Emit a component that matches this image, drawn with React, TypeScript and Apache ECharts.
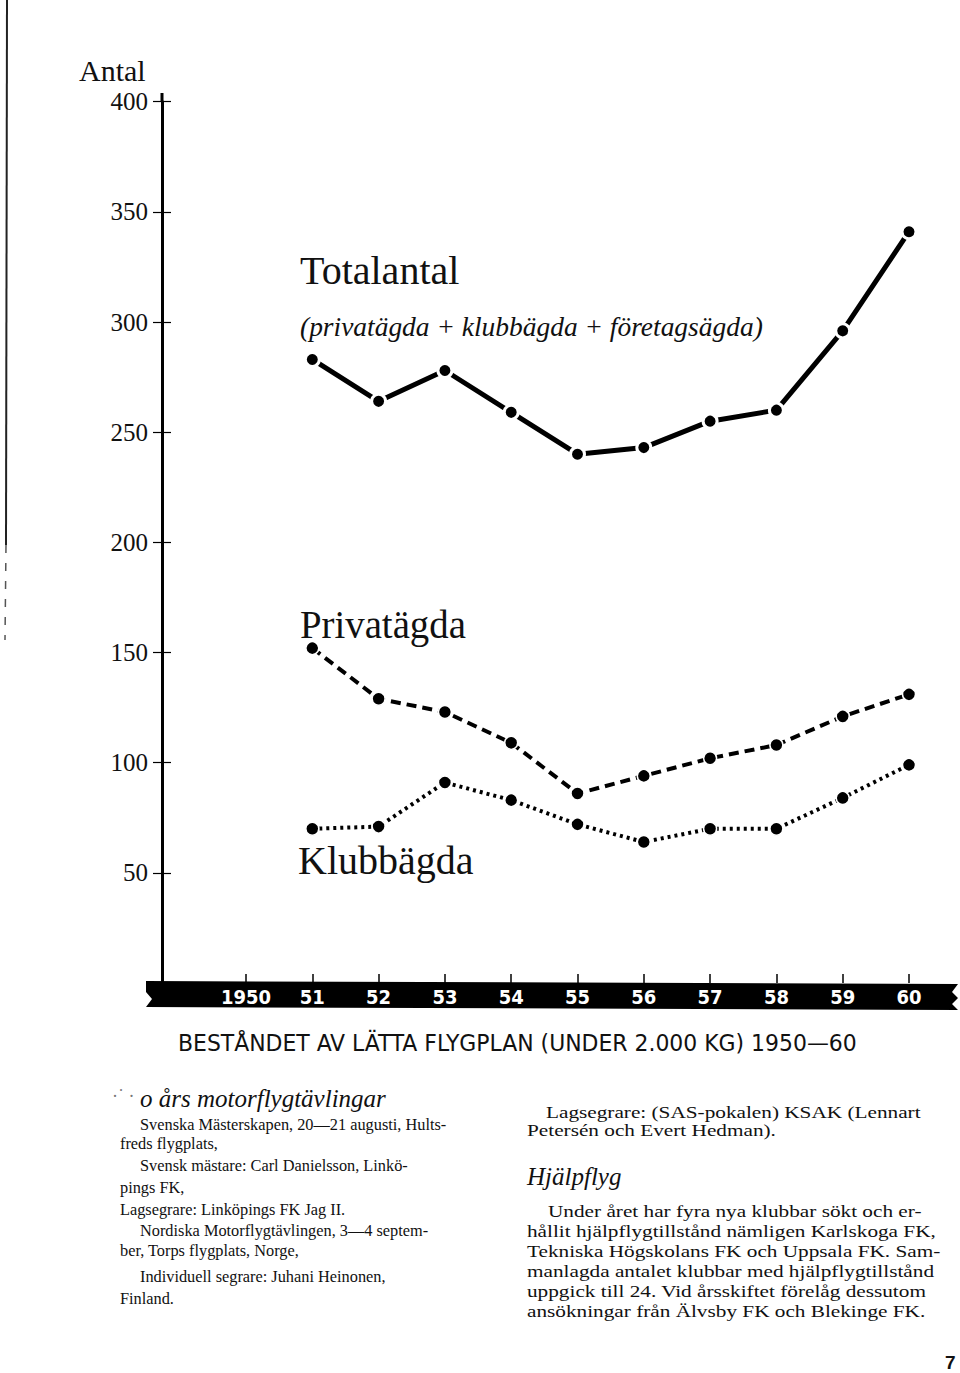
import React, { useEffect, useRef } from "react";
import * as echarts from "echarts";

// ---- data ----
const years = [1951, 1952, 1953, 1954, 1955, 1956, 1957, 1958, 1959, 1960];
const tickYears = [1950, 1951, 1952, 1953, 1954, 1955, 1956, 1957, 1958, 1959, 1960];
const tickLabels = ["1950", "51", "52", "53", "54", "55", "56", "57", "58", "59", "60"];
const totalantal = [283, 264, 278, 259, 240, 243, 255, 260, 296, 341];
const privatagda = [152, 129, 123, 109, 86, 94, 102, 108, 121, 131];
const klubbagda = [70, 71, 91, 83, 72, 64, 70, 70, 84, 99];
const yMin = 0;
const yMax = 400;
const yStep = 50;

const caption = "BESTÅNDET AV LÄTTA FLYGPLAN (UNDER 2.000 KG) 1950—60";

const leftHeading = "o års motorflygtävlingar";
const leftLines: [string, boolean][] = [
  ["Svenska Mästerskapen, 20—21 augusti, Hults-", true],
  ["freds flygplats,", false],
  ["Svensk mästare: Carl Danielsson, Linkö-", true],
  ["pings FK,", false],
  ["Lagsegrare: Linköpings FK Jag II.", false],
  ["Nordiska Motorflygtävlingen, 3—4 septem-", true],
  ["ber, Torps flygplats, Norge,", false],
  ["Individuell segrare: Juhani Heinonen,", true],
  ["Finland.", false],
];
const rightTop: [string, boolean][] = [
  ["Lagsegrare: (SAS-pokalen) KSAK (Lennart", true],
  ["Petersén och Evert Hedman).", false],
];
const rightHeading = "Hjälpflyg";
const rightLines: [string, boolean][] = [
  ["Under året har fyra nya klubbar sökt och er-", true],
  ["hållit hjälpflygtillstånd nämligen Karlskoga FK,", false],
  ["Tekniska Högskolans FK och Uppsala FK. Sam-", false],
  ["manlagda antalet klubbar med hjälpflygtillstånd", false],
  ["uppgick till 24. Vid årsskiftet förelåg dessutom", false],
  ["ansökningar från Älvsby FK och Blekinge FK.", false],
];

const SERIF = '"Liberation Serif", "DejaVu Serif", serif';
const SANS_N = '"Liberation Sans Narrow", "DejaVu Sans Condensed", "Liberation Sans", sans-serif';

function txt(text: string, x: number, y: number, font: string, sx = 1, extra: any = {}) {
  return {
    type: "text",
    x,
    y,
    scaleX: sx,
    z: 20,
    style: { text, font, fill: "#111", align: "left", verticalAlign: "middle", ...extra },
  };
}

export default function App() {
  const ref = useRef<HTMLDivElement>(null);
  useEffect(() => {
    if (!ref.current) return;
    const chart = echarts.init(ref.current, null, { renderer: "svg" });

    const graphics: any[] = [];
    // scan border line on the left
    graphics.push({ type: "line", z: 1, shape: { x1: 7, y1: 0, x2: 6, y2: 545 }, style: { stroke: "#222", lineWidth: 2 } });
    graphics.push({ type: "line", z: 1, shape: { x1: 6, y1: 545, x2: 5, y2: 640 }, style: { stroke: "#555", lineWidth: 1.5, lineDash: [8, 10] } });
    // black x-axis band
    graphics.push({
      type: "polygon",
      z: 1,
      shape: { points: [[146, 981], [958, 984], [952, 992], [958, 998], [952, 1004], [958, 1010], [146, 1007], [152, 999], [146, 992]] },
      style: { fill: "#000" },
    });
    // y axis extension above 400
    graphics.push({ type: "line", z: 5, shape: { x1: 162, y1: 93, x2: 162, y2: 102 }, style: { stroke: "#000", lineWidth: 3 } });

    graphics.push(txt("Antal", 79, 70, `30px ${SERIF}`));
    graphics.push(txt("Totalantal", 300, 270, `40px ${SERIF}`));
    graphics.push(txt("(privatägda + klubbägda + företagsägda)", 300, 326, `italic 28px ${SERIF}`, 0.98));
    graphics.push(txt("Privatägda", 300, 625, `40px ${SERIF}`, 0.97));
    graphics.push(txt("Klubbägda", 298, 860, `40px ${SERIF}`));

    graphics.push(txt(caption, 178, 1043, `23px ${SANS_N}`, 1.06));

    // left column
    graphics.push(txt("·˙ ·", 112, 1096, `18px ${SERIF}`, 1, { fill: "#777" }));
    graphics.push(txt(leftHeading, 140, 1098, `italic 25px ${SERIF}`));
    const leftY = [1124, 1143, 1165, 1187, 1209, 1230, 1250, 1276, 1298];
    leftLines.forEach(([t, ind], i) => graphics.push(txt(t, ind ? 140 : 120, leftY[i], `17px ${SERIF}`, 0.96)));

    // right column
    const rtY = [1112, 1130];
    rightTop.forEach(([t, ind], i) => graphics.push(txt(t, ind ? 546 : 527, rtY[i], `17px ${SERIF}`, 1.25)));
    graphics.push(txt(rightHeading, 527, 1176, `italic 25px ${SERIF}`));
    const rY = [1211, 1231, 1251, 1271, 1291, 1311];
    rightLines.forEach(([t, ind], i) => graphics.push(txt(t, ind ? 548 : 527, rY[i], `17px ${SERIF}`, 1.25)));

    graphics.push(txt("7", 945, 1362, `bold 19px "Liberation Sans", sans-serif`));

    const yAxisBase = {
      type: "value",
      min: yMin,
      max: yMax,
      interval: yStep,
      position: "left",
      splitLine: { show: false },
    };

    chart.setOption({
      animation: false,
      backgroundColor: "#fff",
      grid: { left: 246, right: 51, top: 101.7, bottom: 1373 - 983, containLabel: false },
      xAxis: {
        type: "value",
        min: tickYears[0],
        max: tickYears[tickYears.length - 1],
        interval: 1,
        z: 10,
        axisLine: { show: false },
        splitLine: { show: false },
        axisTick: { show: true, inside: true, length: 9, lineStyle: { color: "#000", width: 1.5 } },
        axisLabel: {
          color: "#fff",
          fontWeight: "bold",
          fontSize: 20,
          fontFamily: '"DejaVu Sans Condensed", "Liberation Sans", sans-serif',
          margin: 4,
          formatter: (v: number) => {
            const i = tickYears.indexOf(Math.round(v));
            return i >= 0 ? tickLabels[i] : "";
          },
        },
      },
      yAxis: [
        {
          ...yAxisBase,
          offset: 84,
          axisLine: { show: true, lineStyle: { color: "#000", width: 3 } },
          axisTick: { show: true, length: 9, lineStyle: { color: "#000", width: 1.2 } },
          axisLabel: { color: "#111", fontSize: 25, fontFamily: SERIF, margin: 14, showMinLabel: false },
        },
        {
          ...yAxisBase,
          offset: 75,
          axisLine: { show: true, lineStyle: { color: "#000", width: 0.01, opacity: 0 } },
          axisTick: { show: true, length: 9, lineStyle: { color: "#000", width: 1.2 } },
          axisLabel: { show: false },
        },
      ],
      graphic: graphics,
      series: [
        {
          name: "Totalantal",
          type: "line",
          data: years.map((y, i) => [y, totalantal[i]]),
          symbol: "circle",
          symbolSize: 14,
          lineStyle: { color: "#000", width: 5 },
          itemStyle: { color: "#000", borderColor: "#fff", borderWidth: 3 },
          z: 5,
        },
        {
          name: "Privatägda",
          type: "line",
          data: years.map((y, i) => [y, privatagda[i]]),
          symbol: "circle",
          symbolSize: 13,
          lineStyle: { color: "#000", width: 4, type: [10, 6] },
          itemStyle: { color: "#000", borderColor: "#fff", borderWidth: 1.5 },
          z: 5,
        },
        {
          name: "Klubbägda",
          type: "line",
          data: years.map((y, i) => [y, klubbagda[i]]),
          symbol: "circle",
          symbolSize: 13,
          lineStyle: { color: "#000", width: 4, type: [3, 4] },
          itemStyle: { color: "#000", borderColor: "#fff", borderWidth: 1.5 },
          z: 5,
        },
      ],
    });
    return () => chart.dispose();
  }, []);
  return <div ref={ref} style={{ position: "fixed", left: 0, top: 0, width: 960, height: 1373 }} />;
}
